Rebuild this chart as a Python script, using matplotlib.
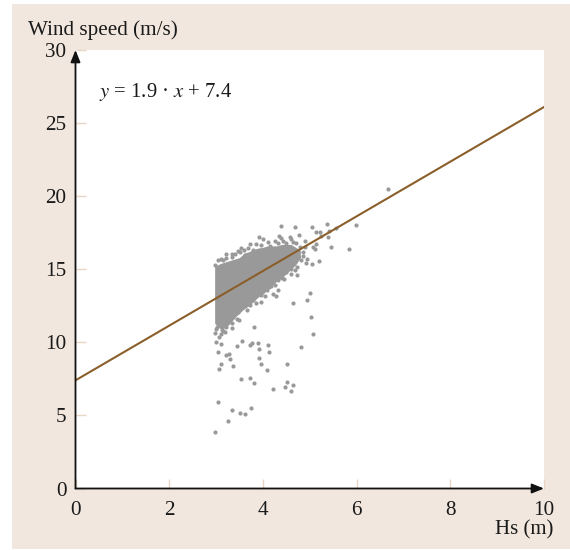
import matplotlib.pyplot as plt
from matplotlib.patches import Rectangle

plt.rcParams["font.family"] = ["Liberation Serif", "DejaVu Sans"]

W, H = 570, 550
beige = "#f1e7de"
gray = "#999999"
brown = "#8b5e2a"

xticks = [0, 2, 4, 6, 8, 10]
yticks = [0, 5, 10, 15, 20, 25, 30]

# regression line as drawn
line_x = [0, 10]
line_y = [7.4, 26.1]

# dense core of the cloud, read per Hs column
core_hs = [2.97, 3.1, 3.2, 3.3, 3.4, 3.5, 3.6, 3.7, 3.8, 3.9, 4.0, 4.1, 4.2, 4.3, 4.4, 4.5, 4.6, 4.7, 4.8]
core_low = [11.3, 10.9, 11.0, 11.3, 11.7, 12.0, 12.3, 12.5, 12.8, 13.1, 13.3, 13.6, 13.9, 14.2, 14.4, 14.7, 15.0, 15.3, 15.8]
core_high = [15.2, 15.4, 15.5, 15.6, 15.7, 15.8, 16.1, 16.2, 16.35, 16.45, 16.5, 16.6, 16.6, 16.6, 16.7, 16.7, 16.7, 16.5, 16.3]

# points on the edge of the cloud and scattered around it
hs = [3.01, 3.12, 3.22, 3.33, 3.37, 3.47, 3.58, 3.72, 3.79, 3.97, 4.08, 4.18, 4.33, 4.40, 4.50, 4.61, 4.72,
      3.05, 3.22, 3.33, 3.51, 3.61, 3.69, 3.79, 3.97, 4.15, 4.33, 4.50, 4.65, 4.79, 4.89, 4.82, 4.75, 4.86, 4.68,
      2.97, 3.26, 3.05, 3.34, 3.52, 3.61, 3.75, 3.54, 3.72, 3.81, 4.21, 4.47, 4.52, 4.64, 4.60,
      3.06, 3.11, 3.37, 3.29, 3.21, 3.28, 3.05, 2.99, 3.10, 3.07, 2.97, 3.44, 3.55, 3.72, 3.76,
      3.90, 3.91, 4.10, 4.12, 3.92, 3.96, 4.09, 4.51, 4.82, 5.06, 5.03, 3.81, 3.49, 3.34,
      4.65, 4.94, 5.01, 3.96, 4.28, 4.21, 4.33, 4.12,
      4.38, 4.69, 5.04, 5.37, 5.98, 3.91, 4.01, 4.35, 4.38, 4.77, 4.57, 5.13, 5.21, 5.41, 5.57,
      5.25, 5.40, 5.14, 5.07, 5.12, 5.46, 5.83, 5.20, 5.05, 4.91, 4.72, 3.72, 3.33, 3.22, 3.54,
      3.46, 3.15, 2.97, 6.66,
      4.85, 4.90, 4.95, 4.60, 4.45, 4.25, 4.05, 3.85, 3.65, 3.45, 3.20, 3.10, 3.00, 3.15,
      3.10, 3.40, 3.60, 3.85, 4.10, 4.25, 4.42, 4.60, 4.70]
ws = [11.07, 10.83, 11.07, 11.30, 11.76, 12.10, 12.43, 12.55, 12.90, 13.23, 13.57, 13.85, 14.26, 14.37, 14.83, 14.99, 15.13,
      15.63, 15.75, 15.81, 16.20, 15.97, 16.42, 16.31, 16.66, 16.59, 16.77, 16.77, 16.88, 16.54, 16.93, 15.63, 15.86, 16.20, 14.95,
      3.89, 4.59, 5.90, 5.37, 5.16, 5.07, 5.52, 7.46, 7.55, 7.24, 6.79, 6.92, 7.31, 7.10, 6.69,
      8.15, 8.49, 8.40, 8.84, 9.15, 9.22, 9.36, 10.0, 9.91, 10.34, 10.61, 9.77, 10.09, 9.80, 9.98,
      9.95, 9.51, 9.80, 9.33, 8.91, 8.49, 8.13, 8.53, 9.70, 10.58, 11.71, 11.05, 11.50, 10.96,
      12.71, 12.92, 13.39, 12.74, 13.17, 13.32, 13.55, 13.76,
      17.98, 17.87, 17.87, 18.11, 18.05, 17.18, 17.07, 17.27, 17.16, 17.34, 17.18, 17.56, 17.52, 17.62, 17.80,
      17.27, 17.22, 16.70, 16.54, 16.38, 16.54, 16.36, 15.56, 15.38, 15.40, 14.60, 16.70, 16.04, 16.04, 16.42,
      16.27, 15.63, 15.28, 20.47,
      15.90, 16.50, 15.70, 14.70, 14.30, 13.90, 13.20, 12.70, 12.20, 11.60, 10.70, 10.60, 10.90, 10.75,
      15.70, 16.05, 16.35, 16.70, 16.85, 16.95, 16.95, 17.05, 16.80]

fig = plt.figure(figsize=(W / 100, H / 100), dpi=100, facecolor="white")
fig.add_artist(Rectangle((12 / W, 1 - 549 / H), (W - 12) / W, 545 / H, transform=fig.transFigure,
                         facecolor=beige, edgecolor="none", zorder=-1))

left, right, top, bottom = 75.5, 544, 50, 488.5
ax = fig.add_axes([left / W, 1 - bottom / H, (right - left) / W, (bottom - top) / H])
ax.set_xlim(0, 10)
ax.set_ylim(0, 30)
for s in ax.spines.values():
    s.set_visible(False)

ax.fill_between(core_hs, core_low, core_high, color=gray, linewidth=0, zorder=2)
ax.scatter(hs, ws, s=9, color=gray, linewidths=0, zorder=2)
ax.plot(line_x, line_y, color=brown, lw=1.5, zorder=3)

# pale ticks on the inside
ax.tick_params(axis="both", direction="in", length=7, width=1, color="#e8d5c4",
               labelsize=15.2, labelcolor="#1a1a1a")
ax.tick_params(axis="x", pad=9)
ax.tick_params(axis="y", pad=6.5)
ax.set_xticks(xticks)
ax.set_yticks(yticks)

# axes with arrow heads
for tip in [(10, 0), (0, 30)]:
    ax.annotate("", xy=tip, xytext=(0, 0), xycoords="data", annotation_clip=False,
                arrowprops=dict(arrowstyle="-|>,head_length=0.72,head_width=0.29", color="#111111",
                                lw=1.3, shrinkA=0, shrinkB=0), zorder=5)

fig.text(28 / W, 1 - 30 / H, "Wind speed (m/s)", fontsize=15.2, color="#1a1a1a", ha="left", va="center")
fig.text(553 / W, 1 - 534 / H, "Hs (m)", fontsize=15, color="#1a1a1a", ha="right", va="baseline")
fig.text(99 / W, 1 - 97 / H, "$y$ = 1.9 · $x$ + 7.4", fontsize=14.9, color="#1a1a1a",
         ha="left", va="baseline", math_fontfamily="stix")

fig.savefig("out.png", dpi=100, facecolor="white")
